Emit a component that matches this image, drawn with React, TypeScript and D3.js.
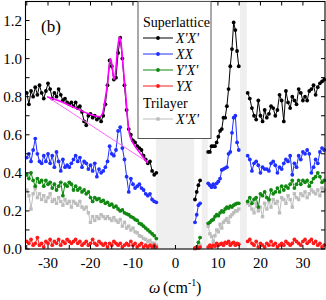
import React from 'react';
import * as d3 from 'd3';

// frequency grids (cm^-1) for each measured window
const leftStart = -35;
const leftStep = 0.5;
const aStart = 4.6;
const aStep = 0.4;
const bStart = 7.7;
const bStep = 0.4;
const cStart = 17;
const cStep = 0.5;

// Superlattice X'X'
const blackLeft = [0.82,0.76,0.83,0.80,0.85,0.81,0.86,0.82,0.79,0.83,0.87,0.84,0.79,0.82,0.80,0.84,0.81,0.78,0.79,0.77,0.76,0.77,0.75,0.77,0.74,0.75,0.72,0.67,0.65,0.70,0.71,0.69,0.70,0.68,0.69,0.67,0.70,0.76,0.86,0.99,0.96,0.89,0.90,1.03,1.11,1.00,0.86,0.73,0.63,0.60,0.57,0.56,0.54,0.53,0.52,0.49,0.47,0.45,0.46,0.41,0.39,0.40];
const blackA = [0.26,0.30,0.335,0.36];
const blackB = [0.51,0.51,0.54,0.54,0.54,0.56,0.59,0.62,0.63,0.69,0.69,0.75,0.84,0.96,1.05,1.19,1.15,1.04,0.96];
const blackC = [0.82,0.79,0.74,0.70,0.68,0.78,0.70,0.67,0.73,0.69,0.71,0.75,0.74,0.70,0.73,0.81,0.78,0.67,0.83,0.77,0.74,0.80,0.78,0.76,0.84,0.82,0.78,0.80,0.78,0.83,0.84,0.86,0.81,0.85,0.87,0.88,0.89];

// Superlattice XX
const blueLeft = [0.48,0.50,0.46,0.52,0.58,0.50,0.46,0.45,0.49,0.46,0.50,0.45,0.49,0.43,0.51,0.46,0.41,0.47,0.43,0.44,0.43,0.45,0.47,0.49,0.46,0.48,0.43,0.46,0.45,0.42,0.44,0.41,0.45,0.38,0.42,0.40,0.41,0.43,0.46,0.54,0.50,0.49,0.52,0.62,0.64,0.53,0.47,0.38,0.30,0.37,0.34,0.32,0.33,0.34,0.32,0.31,0.29,0.28,0.29,0.26,0.25,0.245];
const blueA = [0.14,0.18,0.23,0.24];
const blueB = [0.345,0.335,0.325,0.34,0.325,0.345,0.355,0.37,0.415,0.42,0.425,0.43,0.50,0.51,0.61,0.69,0.70,0.56,0.52];
const blueC = [0.49,0.47,0.41,0.45,0.46,0.44,0.40,0.43,0.42,0.42,0.41,0.45,0.46,0.44,0.40,0.43,0.42,0.45,0.47,0.46,0.49,0.39,0.45,0.43,0.49,0.47,0.51,0.50,0.52,0.50,0.40,0.43,0.47,0.45,0.51,0.53,0.52];

// Superlattice Y'X'
const greenLeft = [0.39,0.37,0.40,0.36,0.33,0.37,0.35,0.36,0.33,0.36,0.34,0.35,0.32,0.34,0.31,0.33,0.35,0.28,0.34,0.33,0.35,0.34,0.31,0.33,0.31,0.32,0.30,0.31,0.29,0.30,0.27,0.25,0.27,0.26,0.265,0.25,0.255,0.24,0.245,0.23,0.235,0.22,0.225,0.21,0.20,0.205,0.19,0.185,0.18,0.17,0.165,0.155,0.15,0.135,0.13,0.12,0.11,0.10,0.09,0.08,0.07,0.055];
const greenA = [0.005,0.01,0.035,0.06];
const greenB = [0.135,0.14,0.15,0.155,0.17,0.18,0.175,0.19,0.20,0.195,0.21,0.22,0.215,0.225,0.22,0.23,0.235,0.24,0.24];
const greenC = [0.25,0.27,0.24,0.26,0.27,0.22,0.29,0.28,0.30,0.27,0.26,0.31,0.29,0.30,0.32,0.30,0.33,0.31,0.33,0.32,0.34,0.36,0.32,0.34,0.36,0.34,0.36,0.35,0.36,0.33,0.35,0.37,0.38,0.40,0.38,0.35,0.36];

// Superlattice YX
const redLeft = [0.04,0.03,0.05,0.02,0.03,0.06,0.02,0.03,0.01,0.04,0.03,0.05,0.02,0.04,0.03,0.05,0.02,0.04,0.03,0.05,0.04,0.03,0.04,0.05,0.03,0.04,0.02,0.03,0.04,0.02,0.03,0.05,0.03,0.02,0.04,0.03,0.02,0.03,0.01,0.03,0.02,0.04,0.03,0.02,0.03,0.01,0.02,0.03,0.02,0.04,0.02,0.03,0.01,0.02,0.03,0.01,0.02,0.01,0.02,0.01,0.02,0.01];
const redA = [0.005,0.01,0.005,0.01];
const redB = [0.01,0.02,0.01,0.02,0.015,0.03,0.02,0.025,0.03,0.02,0.035,0.03,0.04,0.02,0.03,0.035,0.02,0.03,0.025];
const redC = [0.04,0.05,0.03,0.02,0.04,0.01,0.03,0.02,0.01,0.03,0.02,0.04,0.02,0.03,0.01,0.02,0.03,0.02,0.04,0.03,0.02,0.03,0.05,0.04,0.03,0.02,0.04,0.05,0.03,0.04,0.05,0.03,0.04,0.02,0.03,0.01,0.02];

// Trilayer X'X'
const grayLeft = [0.31,0.28,0.21,0.29,0.32,0.27,0.29,0.26,0.28,0.25,0.27,0.29,0.25,0.26,0.24,0.27,0.25,0.23,0.26,0.24,0.25,0.22,0.25,0.24,0.23,0.25,0.22,0.21,0.22,0.19,0.14,0.17,0.15,0.17,0.16,0.18,0.17,0.16,0.17,0.16,0.15,0.165,0.15,0.14,0.155,0.12,0.14,0.11,0.12,0.10,0.11,0.09,0.085,0.07,0.065,0.055,0.05,0.04,0.045,0.03,0.03,0.02];
const grayA = [0.0,0.005,0.01,0.02];
const grayB = [0.12,0.08,0.065,0.04,0.07,0.10,0.09,0.13,0.11,0.14,0.15,0.16,0.14,0.17,0.18,0.19,0.20,0.20,0.21];
const grayC = [0.24,0.23,0.21,0.19,0.24,0.20,0.22,0.17,0.24,0.21,0.25,0.22,0.26,0.24,0.25,0.19,0.27,0.26,0.24,0.28,0.26,0.22,0.29,0.27,0.26,0.29,0.28,0.30,0.27,0.29,0.31,0.30,0.29,0.31,0.28,0.32,0.31];

// two-peak fit and its linear background
const fitX = [-30.2,-27,-24,-21,-19,-17.8,-17.2,-16.6,-16.0,-15.6,-15.3,-14.9,-14.5,-14.1,-13.6,-13.1,-12.7,-12.3,-11.6,-11.1,-10.5,-9.8,-8.2,-7.0,-6.5];
const fitY = [0.80,0.775,0.745,0.715,0.70,0.695,0.71,0.78,0.87,0.96,1.0,0.96,0.89,0.93,1.06,1.115,1.06,0.955,0.78,0.64,0.58,0.55,0.50,0.465,0.45];
const baseX = [-30.2, -6.5];
const baseY = [0.80, 0.455];

// excluded (gray) frequency windows
const bands = [[-4.6, 4.4], [6.2, 7.6], [15.2, 16.8]];

const xTicks = d3.range(-35, 36, 5);
const yTicks = d3.range(0, 13).map(i => i / 10);

const W = 326, H = 300;
const plot = { left: 25.5, right: 325, top: 1.5, bottom: 249 };

type Pt = [number, number];

function grid(start: number, step: number, vals: number[]): Pt[] {
  return vals.map((v, i) => [start + i * step, v]);
}

const serif = '"Liberation Serif"';

// legend rows
const legend = [
  { text: 'Superlattice', header: true, y: 22 },
  { text: "X'X'", color: '#000000', y: 38 },
  { text: 'XX', color: '#1f2fff', y: 54 },
  { text: "Y'X'", color: '#118811', y: 70 },
  { text: 'YX', color: '#ff1a1a', y: 86 },
  { text: 'Trilayer', header: true, y: 103 },
  { text: "X'X'", color: '#bdbdbd', y: 119, square: true },
];

export default function App() {
  const x = d3.scaleLinear().domain([-35.3, 35.2]).range([plot.left, plot.right]);
  const y = d3.scaleLinear().domain([0, 1.3]).range([plot.bottom, plot.top]);
  const line = d3.line<Pt>().x(d => x(d[0])).y(d => y(d[1]));
  const smooth = d3.line<Pt>().x(d => x(d[0])).y(d => y(d[1])).curve(d3.curveMonotoneX);

  const series = [
    { key: 'gray', color: '#bdbdbd', square: true, parts: [grid(leftStart, leftStep, grayLeft), grid(aStart, aStep, grayA), grid(bStart, bStep, grayB), grid(cStart, cStep, grayC)] },
    { key: 'green', color: '#118811', square: false, parts: [grid(leftStart, leftStep, greenLeft), grid(aStart, aStep, greenA), grid(bStart, bStep, greenB), grid(cStart, cStep, greenC)] },
    { key: 'red', color: '#ff1a1a', square: false, parts: [grid(leftStart, leftStep, redLeft), grid(aStart, aStep, redA), grid(bStart, bStep, redB), grid(cStart, cStep, redC)] },
    { key: 'blue', color: '#1f2fff', square: false, parts: [grid(leftStart, leftStep, blueLeft), grid(aStart, aStep, blueA), grid(bStart, bStep, blueB), grid(cStart, cStep, blueC)] },
    { key: 'black', color: '#000000', square: false, parts: [grid(leftStart, leftStep, blackLeft), grid(aStart, aStep, blackA), grid(bStart, bStep, blackB), grid(cStart, cStep, blackC)] },
  ];

  const fitPts: Pt[] = fitX.map((v, i) => [v, fitY[i]]);
  const basePts: Pt[] = baseX.map((v, i) => [v, baseY[i]]);

  return (
    <div style={{ position: 'absolute', left: 0, top: 0, width: W, height: H }}>
      {/* marks layer */}
      <svg width={W} height={H} style={{ position: 'absolute', left: 0, top: 0 }}>
        <rect width={W} height={H} fill="#fff" />
        {bands.map((b, i) => (
          <rect key={i} x={x(b[0])} y={plot.top} width={x(b[1]) - x(b[0])} height={plot.bottom - plot.top} fill="#efefef" />
        ))}

        {series.map(s => (
          <g key={s.key}>
            {s.parts.map((p, j) => (
              <path key={j} d={line(p) || ''} fill="none" stroke={s.color} strokeWidth={1} />
            ))}
            {s.parts.flat().map((d, j) =>
              s.square
                ? <rect key={j} x={x(d[0]) - 1.7} y={y(d[1]) - 1.7} width={3.4} height={3.4} fill={s.color} />
                : <circle key={j} cx={x(d[0])} cy={y(d[1])} r={1.9} fill={s.color} />
            )}
          </g>
        ))}

        <path d={line(basePts) || ''} fill="none" stroke="#ff66ff" strokeWidth={1} />
        <path d={smooth(fitPts) || ''} fill="none" stroke="#ff00ff" strokeWidth={1.6} />

        {/* frame and ticks */}
        <rect x={plot.left} y={plot.top} width={plot.right - plot.left} height={plot.bottom - plot.top} fill="none" stroke="#000" strokeWidth={1.1} />
        {xTicks.filter(t => x(t) > plot.left + 1 && x(t) < plot.right - 1).map(t => (
          <g key={t}>
            <line x1={x(t)} x2={x(t)} y1={plot.bottom} y2={plot.bottom - 4} stroke="#000" />
            <line x1={x(t)} x2={x(t)} y1={plot.top} y2={plot.top + 4} stroke="#000" />
          </g>
        ))}
        {yTicks.map(t => (
          <g key={t}>
            <line x1={plot.left} x2={plot.left + 4} y1={y(t)} y2={y(t)} stroke="#000" />
            <line x1={plot.right} x2={plot.right - 4} y1={y(t)} y2={y(t)} stroke="#000" />
          </g>
        ))}

        {/* legend box */}
        <rect x={138} y={plot.top} width={73} height={137} fill="#fff" stroke="#555" strokeWidth={1} />
        {legend.filter(l => !l.header).map((l, i) => (
          <g key={i}>
            <line x1={143} x2={173} y1={l.y} y2={l.y} stroke={l.color} strokeWidth={1} />
            {l.square
              ? <rect x={156.3} y={l.y - 1.7} width={3.4} height={3.4} fill={l.color} />
              : <circle cx={158} cy={l.y} r={1.9} fill={l.color} />}
          </g>
        ))}
      </svg>

      {/* text layer */}
      <svg width={W} height={H} style={{ position: 'absolute', left: 0, top: 0 }}>
        {xTicks.filter(t => t % 10 === 0).map(t => (
          <text key={'xl' + t} x={x(t)} y={268} textAnchor="middle" fontSize={15} style={{ fontFamily: serif }}>{t}</text>
        ))}
        {yTicks.filter(t => Math.round(t * 10) % 2 === 0).map(t => (
          <text key={'yl' + t} x={22} y={y(t) + 5} textAnchor="end" fontSize={15} style={{ fontFamily: serif }}>{d3.format('.1f')(t)}</text>
        ))}
        <text x={41} y={32} fontSize={17} style={{ fontFamily: serif }}>(b)</text>

        <text x={149} y={293} fontSize={16} style={{ fontFamily: serif, fontStyle: 'italic' }}>ω</text>
        <text x={163} y={293} fontSize={16} style={{ fontFamily: serif }}>(cm</text>
        <text x={188} y={286} fontSize={10} style={{ fontFamily: serif }}>-1</text>
        <text x={196} y={293} fontSize={16} style={{ fontFamily: serif }}>)</text>

        {legend.map((l, i) => (
          <text key={'lg' + i} x={l.header ? 143 : 176} y={l.y + 4.5} fontSize={14}
            style={{ fontFamily: serif, fontStyle: l.header ? 'normal' : 'italic' }}>{l.text}</text>
        ))}
      </svg>
    </div>
  );
}
